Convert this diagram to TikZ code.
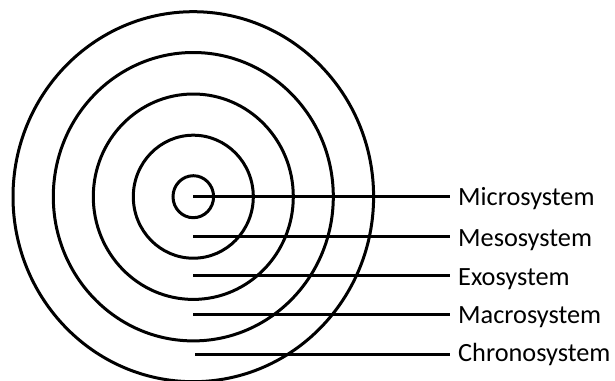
\documentclass[tikz,border=0pt]{standalone}
\usepackage{fontspec}
\setmainfont{Carlito}
\begin{document}
\begin{tikzpicture}[
    x=1pt, y=-1pt,
    ring/.style={line width=3pt},
    link/.style={line width=3pt},
    tag/.style={anchor=base west, inner xsep=8pt, inner ysep=0pt, font=\fontsize{26.3}{30}\selectfont}
]
\useasboundingbox (0,0) rectangle (615,380);

% Rings
\coordinate (c) at (193.3,196.7);
\foreach \rx/\ry in {20.3/21, 60/61.5, 100/102.7, 140/144.2, 180.3/185}{
    \draw[ring] (c) ellipse ({\rx} and {\ry});
}

% Line starts
\coordinate (s1) at (193.3,196.7);
\coordinate (s2) at (193.3,236.7);
\coordinate (s3) at (193.3,275);
\coordinate (s4) at (193.3,314.3);
\coordinate (s5) at (195,354.3);

% Labels
\node[tag] (micro)  at (450,205)   {Microsystem};
\node[tag] (meso)   at (450,246.7) {Mesosystem};
\node[tag] (exo)    at (450,285)   {Exosystem};
\node[tag] (macro)  at (450,323.3) {Macrosystem};
\node[tag] (chrono) at (450,361.7) {Chronosystem};

% Lines to labels
\draw[link] (s1) -- (s1 -| micro.west);
\draw[link] (s2) -- (s2 -| meso.west);
\draw[link] (s3) -- (s3 -| exo.west);
\draw[link] (s4) -- (s4 -| macro.west);
\draw[link] (s5) -- (s5 -| chrono.west);

\end{tikzpicture}
\end{document}
